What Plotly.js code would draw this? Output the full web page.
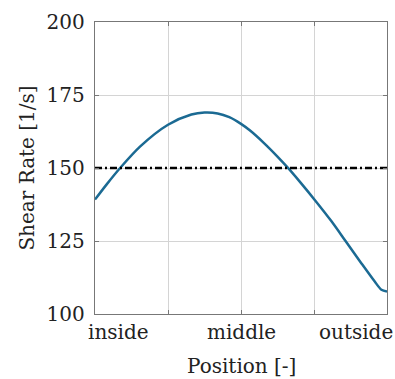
<!DOCTYPE html>
<html>
<head>
<meta charset="utf-8">
<script src="https://cdn.plot.ly/plotly-3.0.1.min.js"></script>
<style>html,body{margin:0;padding:0;background:#fff;}#chart{width:395px;height:379px;}</style>
</head>
<body>
<div id="chart"></div>
<script>
// Position along the channel (0 = inside, 1 = outside)
const position = [0.00, 0.04, 0.086, 0.155, 0.25, 0.33, 0.375, 0.42, 0.46, 0.50, 0.53, 0.577, 0.624, 0.664, 0.704, 0.754, 0.808, 0.858, 0.912, 0.958, 0.981, 1.00];
const shearRate = [139.2, 144.4, 150.0, 157.4, 164.8, 168.3, 169.0, 168.7, 167.4, 165.1, 162.9, 158.7, 154.0, 149.7, 145.0, 138.9, 132.0, 125.0, 117.4, 111.1, 108.3, 107.7];
const referenceRate = 150;
const positionLabels = ["inside", "middle", "outside"];
const positionLabelAt = [0.082, 0.5, 0.894];
const yTicks = [100, 125, 150, 175, 200];
const xGrid = [0, 0.25, 0.5, 0.75, 1];

const font = {family: "DejaVu Serif", size: 20, color: "#222"};

const traces = [
  {x: position, y: shearRate, mode: "lines", line: {color: "#1b6a93", width: 2.5, shape: "spline", smoothing: 0.8}, hoverinfo: "skip"},
  {x: [0, 1], y: [referenceRate, referenceRate], mode: "lines", line: {color: "#000", width: 2.5, dash: "7px,3px,2px,3px"}, hoverinfo: "skip"}
];

const annotations = positionLabels.map((t, i) => ({
  x: positionLabelAt[i], xref: "x", y: 0, yref: "paper", yanchor: "top", xanchor: "center", yshift: -4,
  text: t, showarrow: false, font: font
}));
annotations.push({x: 0.5, xref: "paper", y: 0, yref: "paper", yanchor: "top", yshift: -38, text: "Position [-]", showarrow: false, font: font});

const layout = {
  width: 395, height: 379,
  margin: {l: 95, r: 8, t: 22, b: 65},
  paper_bgcolor: "#fff", plot_bgcolor: "#fff",
  showlegend: false,
  font: font,
  xaxis: {
    range: [0, 1], tickvals: xGrid, showticklabels: false,
    showgrid: true, gridcolor: "#d4d4d4", gridwidth: 1,
    ticks: "inside", ticklen: 4, tickcolor: "#777", tickwidth: 1,
    showline: true, linecolor: "#777", linewidth: 1.2, mirror: "ticks",
    zeroline: false, fixedrange: true
  },
  yaxis: {
    range: [100, 200], tickvals: yTicks,
    showgrid: true, gridcolor: "#d4d4d4", gridwidth: 1,
    ticks: "inside", ticklen: 4, tickcolor: "#777", tickwidth: 1,
    ticklabelstandoff: 5,
    showline: true, linecolor: "#777", linewidth: 1.2, mirror: "ticks",
    zeroline: false, fixedrange: true,
    tickfont: font,
    title: {text: "Shear Rate [1/s]", font: font, standoff: 6}
  },
  annotations: annotations
};

Plotly.newPlot("chart", traces, layout, {staticPlot: true, displayModeBar: false});
</script>
</body>
</html>
